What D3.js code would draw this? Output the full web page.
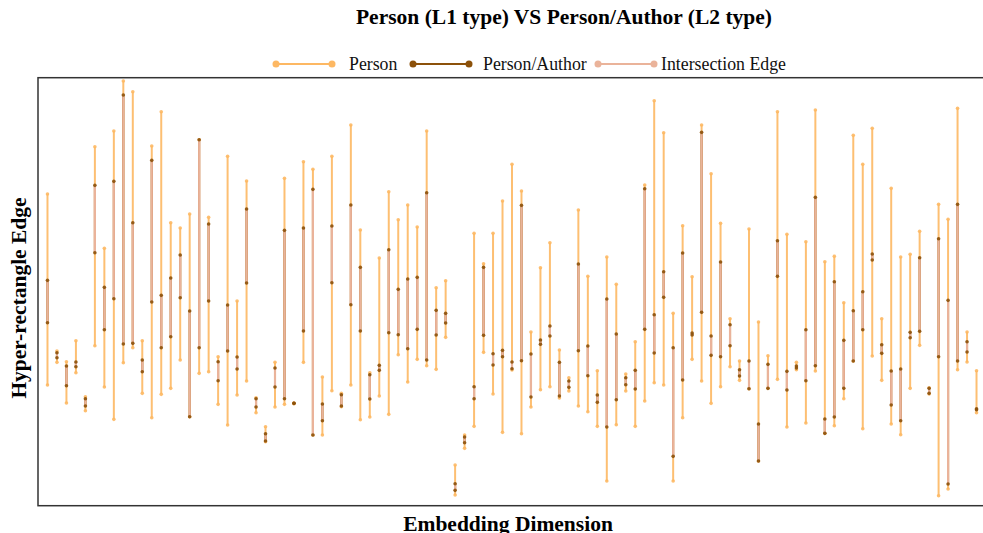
<!DOCTYPE html>
<html>
<head>
<meta charset="utf-8">
<script src="https://cdn.jsdelivr.net/npm/d3@7"></script>
<style>
  html, body { margin: 0; padding: 0; background: #fff; }
  svg { display: block; }
</style>
</head>
<body>
<div id="chart"></div>
<script>
// values (arbitrary embedding units)
const personTop = [94.3, 47.2, 44.0, 50.3, 33.5, 108.5, 78.0, 113.2, 128.2, 125.0,
  50.3, 108.7, 119.0, 85.7, 84.1, 88.3, 110.6, 87.3, 45.5, 105.6,
  62.2, 98.2, 33.2, 24.5, 43.8, 99.0, 31.6, 104.0, 101.7, 39.4,
  105.6, 34.5, 115.0, 83.5, 40.7, 75.1, 95.0, 86.6, 91.0, 84.4,
  113.2, 66.2, 68.3, 13.0, 22.0, 82.5, 73.4, 82.5, 92.2, 103.2,
  95.2, 52.9, 72.2, 79.7, 47.5, 39.2, 89.5, 69.6, 41.3, 75.4,
  67.2, 40.3, 50.0, 97.0, 122.3, 112.7, 58.5, 84.8, 69.5, 115.0,
  100.4, 85.5, 56.9, 44.2, 83.8, 55.9, 45.8, 119.0, 82.2, 43.8,
  80.0, 119.5, 74.0, 75.6, 61.7, 111.9, 103.2, 114.0, 56.9, 96.0,
  75.4, 76.2, 83.1, 36.2, 91.2, 86.7, 120.0, 52.9, 41.3];
const personBottom = [37.0, 43.8, 31.6, 40.7, 29.3, 48.8, 36.4, 26.7, 43.7, 48.2,
  34.5, 27.2, 34.2, 36.0, 44.5, 27.5, 40.5, 41.0, 31.2, 25.0,
  34.0, 38.2, 28.7, 20.0, 30.4, 31.2, 31.4, 43.8, 22.0, 22.0,
  35.3, 30.5, 37.0, 26.6, 27.4, 33.7, 28.2, 46.1, 37.9, 44.7,
  42.8, 41.7, 51.3, 4.0, 18.0, 24.6, 46.8, 34.3, 22.8, 41.5,
  22.4, 30.4, 35.6, 36.5, 33.1, 35.2, 30.7, 29.0, 24.6, 8.2,
  25.1, 35.2, 24.6, 32.2, 37.7, 37.0, 8.2, 27.2, 44.7, 38.2,
  31.5, 36.5, 42.5, 38.4, 35.9, 14.2, 36.0, 38.7, 24.4, 41.6,
  25.6, 41.2, 22.5, 24.8, 32.9, 44.2, 23.9, 45.7, 38.4, 25.3,
  22.1, 36.0, 48.9, 34.3, 3.8, 5.8, 41.6, 43.9, 28.7];
const authorTop = [68.4, 46.7, 42.7, 43.9, 32.9, 96.9, 66.3, 98.1, 124.0, 85.7,
  44.5, 104.4, 63.9, 69.1, 76.0, 59.2, 110.6, 85.3, 44.0, 61.0,
  45.4, 89.8, 32.9, 22.4, 42.1, 83.4, 31.5, 84.1, 95.7, 31.3,
  84.7, 34.1, 91.0, 72.3, 40.1, 42.9, 77.6, 65.7, 68.8, 69.3,
  94.7, 59.4, 58.5, 7.4, 21.4, 36.5, 72.3, 46.4, 47.4, 43.9,
  90.9, 46.3, 50.5, 54.7, 43.8, 38.2, 73.3, 48.7, 34.0, 62.8,
  52.3, 39.2, 41.4, 95.9, 58.1, 71.0, 48.2, 76.6, 52.6, 112.8,
  51.7, 73.9, 55.1, 41.6, 44.2, 25.3, 43.2, 80.3, 41.1, 42.7,
  53.6, 93.3, 26.8, 68.0, 50.4, 59.3, 65.0, 76.3, 49.1, 41.2,
  41.8, 52.8, 75.2, 36.0, 80.9, 62.4, 91.2, 50.0, 29.9];
const authorBottom = [55.7, 45.2, 36.8, 42.5, 30.7, 76.7, 53.6, 62.9, 49.3, 49.5,
  41.0, 61.9, 48.2, 51.5, 63.2, 27.5, 48.2, 62.2, 38.3, 47.2,
  41.8, 67.6, 30.4, 20.2, 36.4, 32.9, 31.5, 53.2, 22.0, 26.3,
  67.7, 30.7, 61.1, 53.2, 32.8, 41.4, 52.7, 52.1, 47.9, 53.7,
  44.5, 52.0, 55.6, 5.4, 19.7, 32.9, 51.9, 43.0, 45.5, 41.9,
  44.3, 33.4, 49.2, 51.7, 33.7, 36.3, 47.3, 39.8, 31.8, 24.4,
  32.6, 37.1, 35.8, 53.7, 46.6, 63.3, 15.6, 38.5, 52.0, 58.8,
  45.9, 45.5, 48.8, 39.7, 35.9, 14.2, 36.0, 69.6, 35.5, 42.1,
  38.3, 42.8, 22.5, 27.4, 36.0, 44.2, 53.6, 74.5, 46.5, 31.0,
  26.3, 51.2, 53.1, 34.5, 45.5, 7.3, 44.2, 46.9, 29.6];
const dims = d3.range(personTop.length);

const seriesNames = ['Person', 'Person/Author', 'Intersection Edge'];
const COL_PERSON = '#fdb863';
const COL_AUTHOR = '#8c510a';
const COL_INTER = '#eab39a';

const W = 983, H = 533;
const plot = { left: 38, top: 77.7, right: 986, bottom: 505.7 };

const svg = d3.select('#chart').append('svg')
  .attr('width', W).attr('height', H)
  .style('font-family', '"Liberation Serif", "Times New Roman", serif');

const x = d3.scaleLinear().domain([-1, 99]).range([plot.left, plot.right]);
const y = d3.scaleLinear().domain([0.8, 129.2]).range([plot.bottom, plot.top]);

const rows = dims.map(i => {
  const iTop = Math.min(personTop[i], authorTop[i]);
  const iBot = Math.max(personBottom[i], authorBottom[i]);
  return {
    i,
    pTop: personTop[i], pBot: personBottom[i],
    aTop: authorTop[i], aBot: authorBottom[i],
    iTop, iBot
  };
});

const g = svg.append('g');

// Person edges
g.selectAll('line.person').data(rows).join('line')
  .attr('class', 'person')
  .attr('x1', d => x(d.i)).attr('x2', d => x(d.i))
  .attr('y1', d => y(d.pTop)).attr('y2', d => y(d.pBot))
  .attr('stroke', COL_PERSON).attr('stroke-opacity', 0.9).attr('stroke-width', 2);
g.selectAll('circle.person').data(rows.flatMap(d => [[d.i, d.pTop], [d.i, d.pBot]])).join('circle')
  .attr('class', 'person')
  .attr('cx', d => x(d[0])).attr('cy', d => y(d[1])).attr('r', 1.8)
  .attr('fill', COL_PERSON).attr('fill-opacity', 0.9);

// Person/Author edges
g.selectAll('line.author').data(rows).join('line')
  .attr('class', 'author')
  .attr('x1', d => x(d.i)).attr('x2', d => x(d.i))
  .attr('y1', d => y(d.aTop)).attr('y2', d => y(d.aBot))
  .attr('stroke', COL_AUTHOR).attr('stroke-width', 2);

// Intersection edges
g.selectAll('line.inter').data(rows.filter(d => d.iTop >= d.iBot)).join('line')
  .attr('class', 'inter')
  .attr('x1', d => x(d.i)).attr('x2', d => x(d.i))
  .attr('y1', d => y(d.iTop)).attr('y2', d => y(d.iBot))
  .attr('stroke', COL_INTER).attr('stroke-width', 2.2);

g.selectAll('circle.author').data(rows.flatMap(d => [[d.i, d.aTop], [d.i, d.aBot]])).join('circle')
  .attr('class', 'author')
  .attr('cx', d => x(d[0])).attr('cy', d => y(d[1])).attr('r', 1.8)
  .attr('fill', COL_AUTHOR).attr('fill-opacity', 0.9);

// plot frame
svg.append('rect')
  .attr('x', plot.left).attr('y', plot.top)
  .attr('width', plot.right - plot.left).attr('height', plot.bottom - plot.top)
  .attr('fill', 'none').attr('stroke', '#333').attr('stroke-width', 1.5);

// title
svg.append('text')
  .attr('x', 564).attr('y', 24)
  .attr('text-anchor', 'middle')
  .attr('font-size', 21.5).attr('font-weight', 'bold')
  .text('Person (L1 type) VS Person/Author (L2 type)');

// legend
const legendColors = [COL_PERSON, COL_AUTHOR, COL_INTER];
const legendLineX = [276, 413, 598];
const legendTextX = [349, 483, 661];
const legend = svg.append('g');
seriesNames.forEach((name, k) => {
  const lg = legend.append('g').attr('transform', `translate(${legendLineX[k]},64)`);
  lg.append('line').attr('x1', 0).attr('x2', 56).attr('y1', 0).attr('y2', 0)
    .attr('stroke', legendColors[k]).attr('stroke-width', 2);
  [0, 56].forEach(cx => lg.append('circle').attr('cx', cx).attr('cy', 0).attr('r', 3.5)
    .attr('fill', legendColors[k]));
  legend.append('text').attr('x', legendTextX[k]).attr('y', 69.5).attr('font-size', 17.8)
    .attr('fill', '#111').text(name);
});

// axis titles
svg.append('text')
  .attr('x', 508).attr('y', 531)
  .attr('text-anchor', 'middle')
  .attr('font-size', 21.5).attr('font-weight', 'bold')
  .text('Embedding Dimension');

svg.append('text')
  .attr('transform', 'translate(26,298) rotate(-90)')
  .attr('text-anchor', 'middle')
  .attr('font-size', 21.5).attr('font-weight', 'bold')
  .text('Hyper-rectangle Edge');
</script>
</body>
</html>
